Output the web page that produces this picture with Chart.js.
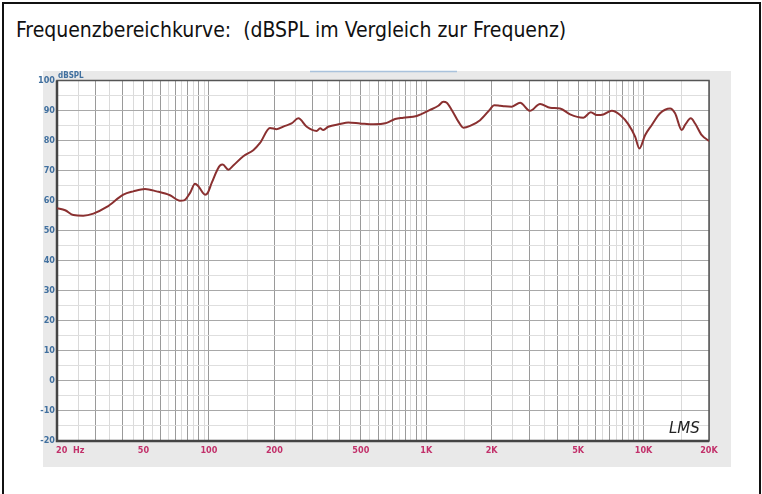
<!DOCTYPE html>
<html>
<head>
<meta charset="utf-8">
<script src="https://cdn.jsdelivr.net/npm/chart.js@4/dist/chart.umd.min.js"></script>
<style>
  html, body { margin: 0; padding: 0; background: #fff; }
  #page { position: relative; width: 762px; height: 494px; overflow: hidden; }
  #box { position: absolute; left: 2px; top: 2px; width: 755px; height: 520px; border: 2px solid #111; }
  #title { position: absolute; left: 16px; top: 18px; font: 21px "DejaVu Sans Condensed", "DejaVu Sans", sans-serif; color: #111; white-space: pre; }
  #fr { position: absolute; left: 0; top: 0; }
</style>
</head>
<body>
<div id="page">
  <div id="box"></div>
  <div id="title">Frequenzbereichkurve:  (dBSPL im Vergleich zur Frequenz)</div>
  <canvas id="fr" width="762" height="494"></canvas>
</div>
<script>
const freqHz = [20, 21.8, 23.8, 26.4, 29.4, 33.9, 40.4, 44.9, 50.8, 57.5, 66.2, 73.6, 76.8, 81.9, 86.3, 89.4,
    96, 98.8, 103, 112.5, 115.8, 122.8, 129.5, 144, 160, 171.9, 191, 205, 224, 240, 258, 282, 313, 325, 336, 354,
    401, 438, 496, 571, 658, 719, 785, 904, 1041, 1137, 1199, 1243, 1310, 1406, 1482, 1591, 1769, 1966, 2052,
    2186, 2300, 2476, 2702, 3004, 3340, 3714, 4130, 4590, 5284, 5716, 6092, 6532, 7140, 7798, 8516, 9142, 9568,
    10160, 10910, 11910, 13240, 13960, 14990, 15520, 16490, 17260, 18530, 20000];
const splDb = [57.5, 56.8, 55.2, 55.0, 55.7, 57.9, 62.0, 63.1, 63.9, 63.1, 61.8, 60.0, 60.1, 62.6, 65.6, 64.8,
    62.0, 62.6, 65.9, 71.7, 72.0, 70.3, 71.7, 74.8, 76.8, 79.2, 84.2, 83.8, 84.9, 85.7, 87.4, 84.6, 83.2, 84.1, 83.5, 84.6,
    85.5, 86.0, 85.7, 85.4, 85.9, 87.2, 87.6, 88.2, 90.2, 91.6, 92.9, 92.6, 90.2, 86.3, 84.3, 84.9, 86.8, 90.4, 91.8,
    91.6, 91.4, 91.3, 92.6, 89.9, 92.2, 90.9, 90.7, 88.7, 87.6, 89.4, 88.5, 88.7, 89.9, 88.5, 85.4, 81.3, 77.4,
    81.8, 85.2, 89.1, 90.7, 89.1, 83.5, 85.2, 87.4, 85.7, 81.8, 79.9];

// Achsenbeschriftung
const xLabelValues = [20, 50, 100, 200, 500, 1000, 2000, 5000, 10000, 20000];
const xLabelText = ['20  Hz', '50', '100', '200', '500', '1K', '2K', '5K', '10K', '20K'];
const gridSteps = [1, 1.5, 2, 2.5, 3, 3.5, 4, 4.5, 5, 5.5, 6, 6.5, 7, 7.5, 8, 8.5, 9, 9.5];
const decades = [10, 100, 1000, 10000];
const yMin = -20, yMax = 100;

const xGridValues = [];
decades.forEach(d => gridSteps.forEach(s => {
    const v = d * s;
    if (v >= 20 && v <= 20000) xGridValues.push(v);
}));
if (xGridValues.indexOf(20000) < 0) xGridValues.push(20000);

function isMajorFreq(v) {
    const m = v / Math.pow(10, Math.floor(Math.log10(v) + 1e-9));
    return Math.abs(m - Math.round(m)) < 1e-6;
}

const lmsDecor = {
    id: 'lmsDecor',
    beforeDraw(chart) {
        const c = chart.ctx, a = chart.chartArea;
        c.save();
        c.fillStyle = '#e9e9e9';
        c.fillRect(43, 71, 688, 396);
        c.fillStyle = '#fff';
        c.fillRect(a.left, a.top, a.right - a.left, a.bottom - a.top);
        // kleine Leiste oben
        c.strokeStyle = '#a9c2dc';
        c.lineWidth = 1.5;
        c.beginPath();
        c.moveTo(310, 71.5);
        c.lineTo(457, 71.5);
        c.stroke();
        c.restore();
    },
    beforeDatasetsDraw(chart) {
        const c = chart.ctx, a = chart.chartArea;
        c.save();
        c.strokeStyle = '#555';
        c.lineWidth = 1.5;
        c.strokeRect(a.left, a.top, a.right - a.left, a.bottom - a.top);
        c.lineWidth = 2.5;
        c.strokeStyle = '#444';
        c.beginPath();
        c.moveTo(a.left, a.top);
        c.lineTo(a.left, a.bottom);
        c.lineTo(a.right, a.bottom);
        c.stroke();
        c.restore();
    },
    afterDraw(chart) {
        const c = chart.ctx, a = chart.chartArea, xs = chart.scales.x;
        c.save();
        c.font = 'bold 9px "Liberation Sans Narrow", "DejaVu Sans Condensed", sans-serif';
        c.fillStyle = '#c2306a';
        c.textBaseline = 'middle';
        xLabelValues.forEach((v, i) => {
            const px = xs.getPixelForValue(v);
            c.textAlign = i === 0 ? 'left' : 'center';
            c.fillText(xLabelText[i], i === 0 ? px - 1 : px, a.bottom + 10);
        });
        // dBSPL
        c.fillStyle = '#41709f';
        c.font = 'bold 8px "Liberation Sans Narrow", "DejaVu Sans Condensed", sans-serif';
        c.textAlign = 'left';
        c.textBaseline = 'bottom';
        c.fillText('dBSPL', a.left + 1, a.top - 1);
        // LMS Logo
        c.fillStyle = '#222';
        c.font = 'italic 15px "DejaVu Sans", sans-serif';
        c.textBaseline = 'alphabetic';
        c.fillText('LMS', a.right - 40, a.bottom - 8);
        c.restore();
    }
};

const ctx = document.getElementById('fr').getContext('2d');
new Chart(ctx, {
    type: 'line',
    data: {
        datasets: [{
            data: freqHz.map((f, i) => ({ x: f, y: splDb[i] })),
            borderColor: '#8a3030',
            borderWidth: 2,
            pointRadius: 0,
            tension: 0.35,
            cubicInterpolationMode: 'monotone',
            fill: false
        }]
    },
    options: {
        responsive: false,
        animation: false,
        events: [],
        layout: { padding: { left: 0, top: 80.5, right: 53, bottom: 27 } },
        plugins: { legend: { display: false }, tooltip: { enabled: false } },
        scales: {
            x: {
                type: 'logarithmic',
                min: 20,
                max: 20000,
                afterBuildTicks: s => { s.ticks = xGridValues.map(v => ({ value: v })); },
                afterFit: s => { s.height = 26; },
                ticks: { display: false },
                border: { display: false },
                grid: {
                    drawTicks: false,
                    color: c => isMajorFreq(c.tick.value) ? '#9a9a9a' : '#dadada',
                    lineWidth: 1
                }
            },
            y: {
                min: yMin,
                max: yMax,
                afterFit: s => { s.width = 57; },
                border: { display: false },
                ticks: {
                    stepSize: 5,
                    autoSkip: false,
                    padding: 2,
                    color: '#41709f',
                    font: { family: '"Liberation Sans Narrow", "DejaVu Sans Condensed", sans-serif', size: 9, weight: 'bold' },
                    callback: v => (v % 10 === 0 ? String(v) : '')
                },
                grid: {
                    drawTicks: false,
                    color: c => (c.tick.value % 10 === 0 ? '#a8a8a8' : '#dedede'),
                    lineWidth: 1
                }
            }
        }
    },
    plugins: [lmsDecor]
});
</script>
</body>
</html>
